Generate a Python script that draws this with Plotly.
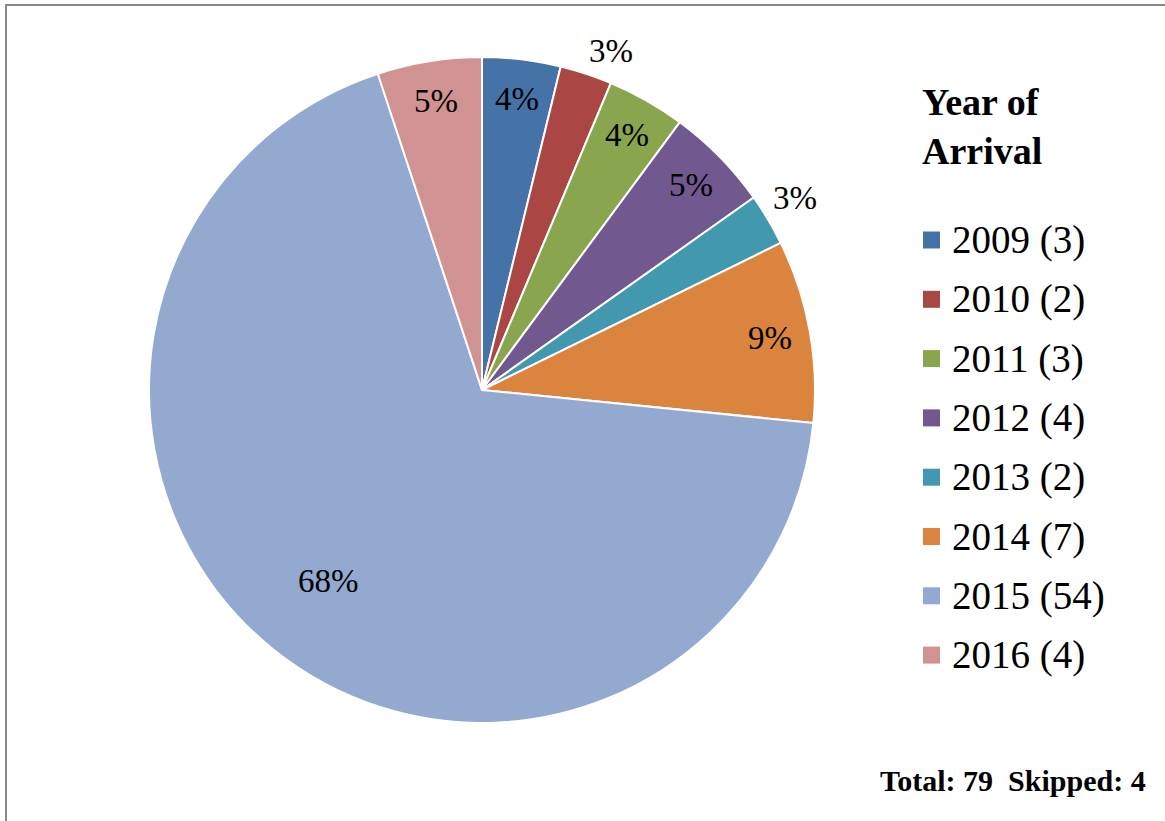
import math
import plotly.graph_objects as go

# Year of arrival breakdown
years = ["2009", "2010", "2011", "2012", "2013", "2014", "2015", "2016"]
counts = [3, 2, 3, 4, 2, 7, 54, 4]
skipped = 4

colors = ["#4572A7", "#AA4643", "#89A54E", "#71588F",
          "#4198AF", "#DB843D", "#93A9CF", "#D19392"]
# label placement: inside labels sit on the slice's mid line at the given
# fraction of the radius; outside labels hang off the rim by their corner
label_outside = [False, True, False, False, True, False, False, False]
label_radius = [0.88, 1.01, 0.88, 0.88, 1.01, 0.88, 0.735, 0.88]

W, H = 1165, 821
FONT = "Liberation Serif, Times New Roman, serif"

# pie geometry in pixels
CX, CY, R = 482, 390, 333

total = sum(counts)
legend_labels = [f"{y} ({c})" for y, c in zip(years, counts)]

fig = go.Figure(go.Pie(
    labels=legend_labels,
    values=counts,
    sort=False,
    direction="clockwise",
    rotation=0,
    marker=dict(colors=colors, line=dict(color="white", width=2)),
    textinfo="none",
    domain=dict(x=[(CX - R) / W, (CX + R) / W],
                y=[1 - (CY + R) / H, 1 - (CY - R) / H]),
    showlegend=False,
    hoverinfo="label+percent",
))

# Percentage labels at each slice's mid angle (clockwise from 12 o'clock)
cum = 0
for c, rf, out in zip(counts, label_radius, label_outside):
    mid = 2 * math.pi * (cum + c / 2) / total
    cum += c
    s, co = math.sin(mid), math.cos(mid)
    px = CX + rf * R * s
    py = CY - rf * R * co
    if out:
        xa = "left" if s >= 0 else "right"
        ya = "bottom" if co >= 0 else "top"
    else:
        xa, ya = "center", "middle"
    fig.add_annotation(
        x=px / W, y=1 - py / H, xref="paper", yref="paper",
        xanchor=xa, yanchor=ya, showarrow=False,
        text=f"{c / total:.0%}",
        font=dict(family=FONT, size=33, color="black"),
    )

# Legend: title, colour swatches and entry labels
fig.add_annotation(
    x=920 / W, y=1 - 126 / H, xref="paper", yref="paper",
    xanchor="left", yanchor="middle", align="left",
    text="<b>Year of<br>Arrival</b>", showarrow=False,
    font=dict(family=FONT, size=38, color="black"),
)
first_y, step = 240, 59.3
for i, (lab, col) in enumerate(zip(legend_labels, colors)):
    yc = first_y + i * step
    fig.add_shape(
        type="rect", xref="paper", yref="paper",
        x0=923 / W, x1=940 / W,
        y0=1 - (yc + 8.5) / H, y1=1 - (yc - 8.5) / H,
        fillcolor=col, line=dict(width=0),
    )
    fig.add_annotation(
        x=950 / W, y=1 - yc / H, xref="paper", yref="paper",
        xanchor="left", yanchor="middle",
        text=lab, showarrow=False,
        font=dict(family=FONT, size=39, color="black"),
    )

fig.add_annotation(
    x=1148 / W, y=1 - 780 / H, xref="paper", yref="paper",
    xanchor="right", yanchor="middle",
    text=f"<b>Total: {total}\u00a0\u00a0Skipped: {skipped}</b>",
    showarrow=False,
    font=dict(family=FONT, size=30, color="black"),
)

# Frame line along the top and left edges
fig.add_shape(
    type="rect", xref="paper", yref="paper",
    x0=6 / W, x1=1.02, y0=-0.02, y1=1 - 5 / H,
    line=dict(color="#888888", width=2), fillcolor="rgba(0,0,0,0)",
    layer="above",
)

fig.update_layout(
    width=W, height=H,
    margin=dict(l=0, r=0, t=0, b=0),
    paper_bgcolor="white", plot_bgcolor="white",
)

fig.write_html("out.html")
